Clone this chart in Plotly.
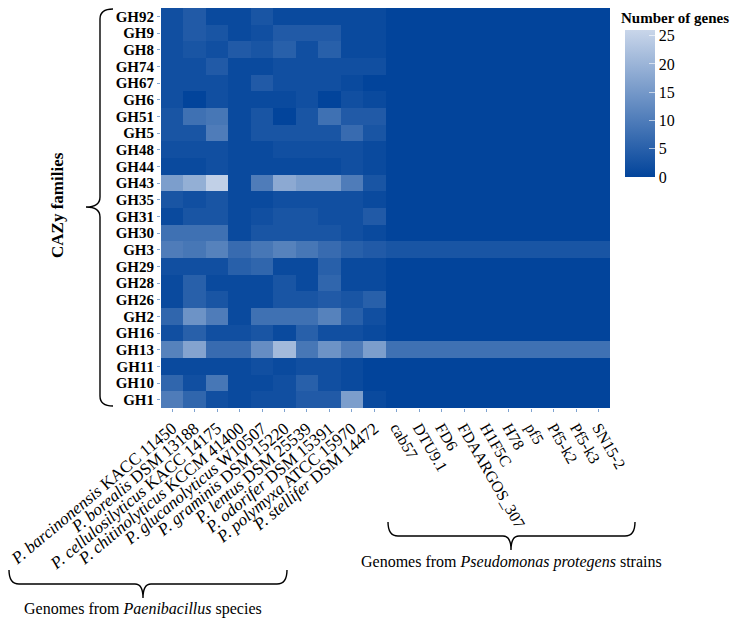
import plotly.graph_objects as go

# ---------------- data ----------------
families = ["GH92", "GH9", "GH8", "GH74", "GH67", "GH6", "GH51", "GH5", "GH48", "GH44",
            "GH43", "GH35", "GH31", "GH30", "GH3", "GH29", "GH28", "GH26", "GH2", "GH16",
            "GH13", "GH11", "GH10", "GH1"]

paen_species = ["P. barcinonensis", "P. borealis", "P. cellulosilyticus", "P. chitinolyticus",
                "P. glucanolyticus", "P. graminis", "P. lentus", "P. odorifer",
                "P. polymyxa", "P. stellifer"]
paen_strains = ["KACC 11450", "DSM 13188", "KACC 14175", "KCCM 41400", "W10507",
                "DSM 15220", "DSM 25539", "DSM 15391", "ATCC 15970", "DSM 14472"]
pseudo_strains = ["cab57", "DTU9.1", "FD6", "FDAARGOS_307", "H1F5C", "H78", "pf5",
                  "Pf5-k2", "Pf5-k3", "SN15-2"]

# gene counts per genome, in the order of `families`
barcinonensis   = [2, 2, 2, 2, 2, 2, 3, 3, 2, 1, 16, 3, 1, 8, 10, 2, 1, 1, 6, 2, 11, 1, 6, 10]
borealis        = [4, 4, 3, 2, 2, 0, 8, 3, 2, 1, 19, 2, 3, 8, 9, 2, 5, 5, 14, 5, 17, 1, 2, 6]
cellulosilyticus = [1, 3, 2, 4, 2, 2, 9, 10, 2, 2, 25, 3, 3, 8, 11, 2, 1, 3, 10, 2, 7, 1, 9, 2]
chitinolyticus  = [1, 1, 4, 1, 1, 1, 1, 1, 1, 1, 1, 1, 1, 1, 7, 5, 1, 1, 1, 2, 7, 1, 1, 1]
glucanolyticus  = [3, 2, 3, 1, 4, 1, 3, 3, 1, 1, 10, 1, 2, 3, 9, 6, 1, 1, 8, 3, 13, 2, 1, 2]
graminis        = [1, 4, 5, 2, 2, 1, 0, 3, 2, 1, 18, 2, 3, 3, 11, 1, 3, 3, 8, 1, 21, 1, 2, 2]
lentus          = [1, 4, 2, 2, 2, 2, 3, 3, 2, 1, 16, 2, 3, 3, 9, 1, 1, 3, 8, 5, 9, 2, 5, 4]
odorifer        = [1, 4, 5, 2, 2, 0, 8, 3, 2, 1, 16, 2, 2, 3, 7, 5, 6, 4, 11, 2, 14, 2, 2, 4]
polymyxa        = [1, 1, 1, 2, 1, 2, 4, 7, 2, 2, 10, 2, 2, 2, 5, 1, 1, 3, 5, 2, 10, 1, 1, 16]
stellifer       = [1, 1, 1, 2, 0, 1, 4, 3, 1, 1, 3, 1, 4, 1, 4, 1, 1, 5, 2, 1, 16, 0, 0, 1]
# all P. protegens strains share the same profile
protegens       = [0, 0, 0, 0, 0, 0, 0, 0, 0, 0, 0, 0, 0, 0, 3, 0, 0, 0, 0, 0, 8, 0, 0, 0]

paen_columns = [barcinonensis, borealis, cellulosilyticus, chitinolyticus, glucanolyticus,
                graminis, lentus, odorifer, polymyxa, stellifer]
pseudo_columns = [protegens] * len(pseudo_strains)

cbar_ticks = [0, 5, 10, 15, 20, 25]

# ---------------- build ----------------
paen_names = [f"{s} {k}" for s, k in zip(paen_species, paen_strains)]
paen_text = [f"<i>{s}</i> {k}" for s, k in zip(paen_species, paen_strains)]
genomes = paen_names + pseudo_strains
columns = paen_columns + pseudo_columns
z = [[col[r] for col in columns] for r in range(len(families))]

OFF = 8                            # page offset of the figure inside the window
W, H = 751 - OFF, 621 - OFF        # figure fits the window without scrolling
L, R, T, B = 161, 610, 8, 408      # plot area in window pixels


def px(x):
    return (x - L) / (R - L)


def py(y):
    return (B - y) / (B - T)


def path(points):
    s = ""
    for p in points:
        if p[0] == "Q":
            (cx, cy), (x, y) = p[1], p[2]
            s += f" Q{px(cx):.5f},{py(cy):.5f} {px(x):.5f},{py(y):.5f}"
        else:
            x, y = p[1]
            s += f" {p[0]}{px(x):.5f},{py(y):.5f}"
    return s.strip()


serif = "Liberation Serif"

fig = go.Figure()
fig.add_trace(go.Heatmap(
    z=z, x=genomes, y=families,
    zmin=0, zmax=26,
    colorscale=[[0, "#02449b"], [1, "#c9d6ea"]],
    colorbar=dict(
        thickness=30, len=147, lenmode="pixels",
        x=px(625), xanchor="left", y=py(30), yanchor="top",
        xpad=0, ypad=0, outlinewidth=0,
        tickvals=cbar_ticks, ticks="inside", ticklen=6, tickcolor="rgba(255,255,255,0.6)",
        tickfont=dict(family=serif, size=16, color="black"),
    ),
    hovertemplate="%{y} | %{x}: %{z}<extra></extra>",
))
# invisible helper trace so the second x axis is drawn
fig.add_trace(go.Scatter(x=[len(paen_names), len(genomes) - 1], y=[families[0], families[0]],
                         xaxis="x2", mode="markers", marker=dict(opacity=0, size=1),
                         showlegend=False, hoverinfo="skip"))

tickfont = dict(family=serif, size=16, color="black")
fig.update_layout(
    width=W, height=H,
    margin=dict(l=L - OFF, r=W - (R - OFF), t=T - OFF, b=H - (B - OFF), autoexpand=False),
    paper_bgcolor="white", plot_bgcolor="white",
    showlegend=False,
    xaxis=dict(type="category", categoryorder="array", categoryarray=genomes,
               range=[-0.5, len(genomes) - 0.5], automargin=False,
               tickmode="array", tickvals=paen_names, ticktext=paen_text,
               tickangle=-40, tickfont=dict(family=serif, size=17, color="black"),
               ticks="outside", ticklen=3, tickcolor="#7fa3d0",
               showgrid=False, zeroline=False, showline=False),
    xaxis2=dict(overlaying="x", anchor="y", side="bottom",
                range=[-0.5, len(genomes) - 0.5], automargin=False,
                tickmode="array", tickvals=list(range(len(paen_names), len(genomes))),
                ticktext=pseudo_strains,
                tickangle=60, tickfont=tickfont,
                ticks="outside", ticklen=3, tickcolor="#7fa3d0",
                showgrid=False, zeroline=False, showline=False),
    yaxis=dict(type="category", range=[len(families) - 0.5, -0.5], automargin=False,
               tickmode="array", tickvals=families, ticktext=families,
               tickfont=dict(family=serif, size=15, color="black", weight="bold"),
               ticks="outside", ticklen=3, tickcolor="#7fa3d0",
               showgrid=False, zeroline=False),
)

line = dict(color="black", width=1.4)
shapes = [
    # left brace (CAZy families)
    dict(type="path", xref="paper", yref="paper", line=line,
         path=path([("M", (113, 9)), ("Q", (100, 9), (100, 19)), ("L", (100, 197)),
                    ("Q", (100, 207), (86, 207)), ("Q", (100, 207), (100, 217)),
                    ("L", (100, 396)), ("Q", (100, 406), (113, 406))])),
    # bottom-left brace (Paenibacillus)
    dict(type="path", xref="paper", yref="paper", line=line,
         path=path([("M", (9, 570)), ("Q", (9, 584), (19, 584)), ("L", (135, 584)),
                    ("Q", (143, 584), (143, 598)), ("Q", (143, 584), (151, 584)),
                    ("L", (277, 584)), ("Q", (287, 584), (287, 570))])),
    # bottom-right brace (Pseudomonas)
    dict(type="path", xref="paper", yref="paper", line=line,
         path=path([("M", (388, 522)), ("Q", (388, 536), (398, 536)), ("L", (503, 536)),
                    ("Q", (511, 536), (511, 550)), ("Q", (511, 536), (519, 536)),
                    ("L", (625, 536)), ("Q", (635, 536), (635, 522))])),
]

ann_font = dict(family=serif, size=16, color="black")
annotations = [
    dict(text="<b>CAZy families</b>", x=px(57), y=py(205), xref="paper", yref="paper",
         textangle=-90, showarrow=False, font=dict(family=serif, size=17, color="black"),
         xanchor="center", yanchor="middle"),
    dict(text="Genomes from <i>Paenibacillus</i> species", x=px(143), y=py(609),
         xref="paper", yref="paper", showarrow=False, font=ann_font,
         xanchor="center", yanchor="middle"),
    dict(text="Genomes from <i>Pseudomonas protegens</i> strains", x=px(511), y=py(562),
         xref="paper", yref="paper", showarrow=False, font=ann_font,
         xanchor="center", yanchor="middle"),
    dict(text="<b>Number of genes</b>", x=px(619), y=py(8), xref="paper", yref="paper",
         showarrow=False, font=dict(family=serif, size=15, color="black"),
         xanchor="left", yanchor="top"),
]
fig.update_layout(shapes=shapes, annotations=annotations)

fig.write_html("out.html")
